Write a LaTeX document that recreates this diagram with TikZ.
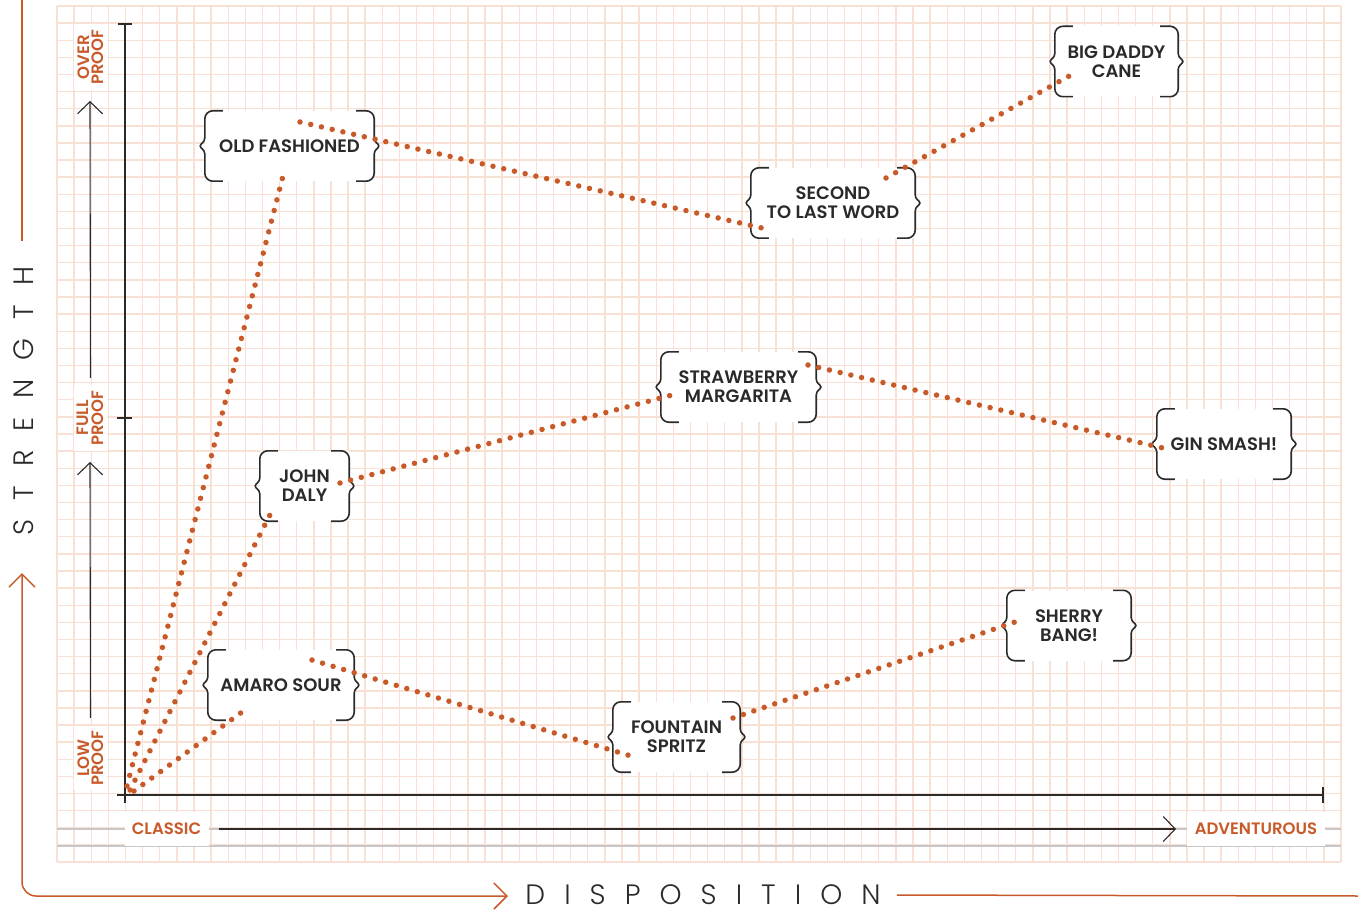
\documentclass[tikz,border=0pt]{standalone}
\usepackage{fontspec}
\setmainfont{Poppins}[UprightFont={* SemiBold}]
\newfontfamily\thinfont{Poppins}[UprightFont={* Light},LetterSpace=68]
\usetikzlibrary{arrows.meta,calc}

\definecolor{rust}{RGB}{200,90,42}
\definecolor{ink}{RGB}{42,42,42}
\definecolor{peach}{RGB}{248,225,212}

\tikzset{
  gridline/.style={peach, line width=1.4pt},
  rulegray/.style={black!22, line width=1.2pt},
  axisline/.style={ink, line width=2pt},
  guide/.style={ink, line width=1.1pt, -{Straight Barb[length=12pt,width=25pt]}},
  frame/.style={rust, line width=1.5pt},
  axislabel/.style={fill=white, text=rust, inner sep=1pt, align=center,
    font=\fontsize{16.5}{14.5}\selectfont},
  bubble/.style={fill=white, minimum height=70pt, inner xsep=2pt, align=center,
    text=ink, font=\fontsize{18}{19}\selectfont},
  curly/.style={ink, line width=1.6pt},
  sip/.style={rust, line width=5.5pt, line cap=round, dash pattern=on 0pt off 11pt},
  bigword/.style={text=ink, inner sep=0pt, font=\thinfont\fontsize{28}{28}\selectfont}
}

\newcommand{\curlies}[1]{%
  \draw[curly] ([xshift=18pt]#1.north west) [rounded corners=8pt] -- (#1.north west)
    [rounded corners=3pt] -- ([yshift=5pt]#1.west) -- ([xshift=-6pt]#1.west)
    -- ([yshift=-5pt]#1.west) [rounded corners=8pt] -- (#1.south west)
    -- ([xshift=18pt]#1.south west);
  \draw[curly] ([xshift=-18pt]#1.north east) [rounded corners=8pt] -- (#1.north east)
    [rounded corners=3pt] -- ([yshift=5pt]#1.east) -- ([xshift=6pt]#1.east)
    -- ([yshift=-5pt]#1.east) [rounded corners=8pt] -- (#1.south east)
    -- ([xshift=-18pt]#1.south east);
}

\begin{document}
\begin{tikzpicture}[x=1pt,y=-1pt]
\useasboundingbox (0,0) rectangle (1358,912);

\foreach \i in {0,...,75} \draw[gridline] (57+17.12*\i,6) -- (57+17.12*\i,862);
\foreach \j in {0,...,50} \draw[gridline] (57,6+17.12*\j) -- (1341,6+17.12*\j);
\draw[rulegray] (57,829) -- (1341,829);
\draw[rulegray] (57,846) -- (1341,846);

% axis labels
\node[axislabel, rotate=90, minimum width=66pt, minimum height=33pt] (overp) at (90.5,57) {OVER\\PROOF};
\node[axislabel, rotate=90, minimum width=66pt, minimum height=33pt] (fullp) at (90.5,418) {FULL\\PROOF};
\node[axislabel, rotate=90, minimum width=64pt, minimum height=33pt] (lowp) at (90.5,758) {LOW\\PROOF};
\node[axislabel, minimum width=84pt, minimum height=34pt] (classic) at (166.5,829) {CLASSIC};
\node[axislabel, minimum width=138pt, minimum height=34pt] (advent) at (1256,829) {ADVENTUROUS};

\coordinate (overtip) at (90,101);
\coordinate (fulltip) at (90,462);
\coordinate (advtip) at (1176,829);
\draw[guide, shorten <=7pt] (fullp.east) -- (overtip);
\draw[guide, shorten <=8pt] (lowp.east) -- (fulltip);
\draw[guide, shorten <=10pt] (classic.east) -- (advtip);

% axes
\coordinate (ytop) at (125,24);
\coordinate (origin) at (125,795);
\coordinate (xend) at (1323,795);
\coordinate (fulltick) at (125,418);
\draw[axisline] (ytop) -- ([yshift=-8pt]origin);
\draw[axisline] ([xshift=-8pt]origin) -- (xend);
\draw[axisline] ([xshift=-7pt]ytop) -- ([xshift=7pt]ytop);
\draw[axisline] ([xshift=-8pt]fulltick) -- ([xshift=7pt]fulltick);
\draw[axisline] ([yshift=8pt]xend) -- ([yshift=-8pt]xend);

% cocktails
\node[bubble, minimum width=169pt] (oldf) at (289.5,146) {OLD FASHIONED};
\node[bubble, minimum width=164pt] (second) at (833,203) {SECOND\\TO LAST WORD};
\node[bubble, minimum width=123pt] (bigdaddy) at (1116.5,61.5) {BIG DADDY\\CANE};
\node[bubble, minimum width=155pt] (strawb) at (738.5,387) {STRAWBERRY\\MARGARITA};
\node[bubble, minimum width=134pt] (ginsmash) at (1224,444) {GIN SMASH!};
\node[bubble, minimum width=89pt] (johnd) at (304.5,486) {JOHN\\DALY};
\node[bubble, minimum width=124pt] (sherry) at (1069,625.5) {SHERRY\\BANG!};
\node[bubble, minimum width=146pt] (amaro) at (281,685) {AMARO SOUR};
\node[bubble, minimum width=127pt] (fountain) at (676.5,737) {FOUNTAIN\\SPRITZ};
\foreach \n in {oldf,second,bigdaddy,strawb,ginsmash,johnd,sherry,amaro,fountain} \curlies{\n};

\coordinate (o1) at (127,786);
\coordinate (o2) at (130,790);
\coordinate (o3) at (134,791);
\coordinate (oldf-in) at (284,172);
\coordinate (oldf-out) at (300,122);
\coordinate (second-in) at (762,228);
\coordinate (second-out) at (886,178);
\coordinate (bigdaddy-in) at (1071,75);
\coordinate (johnd-in) at (274,507);
\coordinate (johnd-out) at (340,483);
\coordinate (strawb-in) at (672,395);
\coordinate (strawb-out) at (808,365);
\coordinate (ginsmash-in) at (1163,448);
\coordinate (amaro-in) at (242,712);
\coordinate (amaro-out) at (312,660);
\coordinate (fountain-in) at (631,756);
\coordinate (fountain-out) at (733,718);
\coordinate (sherry-in) at (1015,622);

\draw[sip] (o1) -- (oldf-in);
\draw[sip] (o2) -- (johnd-in);
\draw[sip] (o3) -- (amaro-in);
\draw[sip] (oldf-out) -- (second-in);
\draw[sip] (second-out) -- (bigdaddy-in);
\draw[sip] (johnd-out) -- (strawb-in);
\draw[sip] (strawb-out) -- (ginsmash-in);
\draw[sip] (amaro-out) -- (fountain-in);
\draw[sip] (fountain-out) -- (sherry-in);

% outer frame
\coordinate (frametop) at (22,0);
\coordinate (framecut) at (22,241);
\coordinate (framend) at (1358,896);
\draw[frame] (frametop) -- (framecut);
\node[bigword, rotate=90] (strength) at (24,401) {STRENGTH};
\draw[frame, {Straight Barb[length=13pt,width=26pt]}-{Straight Barb[length=13pt,width=26pt]}, rounded corners=14pt]
  (22,573) -- (22,896) -- (508,896);
\node[bigword] (disposition) at (703,895) {DISPOSITION};
\draw[frame, shorten <=16pt] (disposition.east) -- (framend);

\end{tikzpicture}
\end{document}
